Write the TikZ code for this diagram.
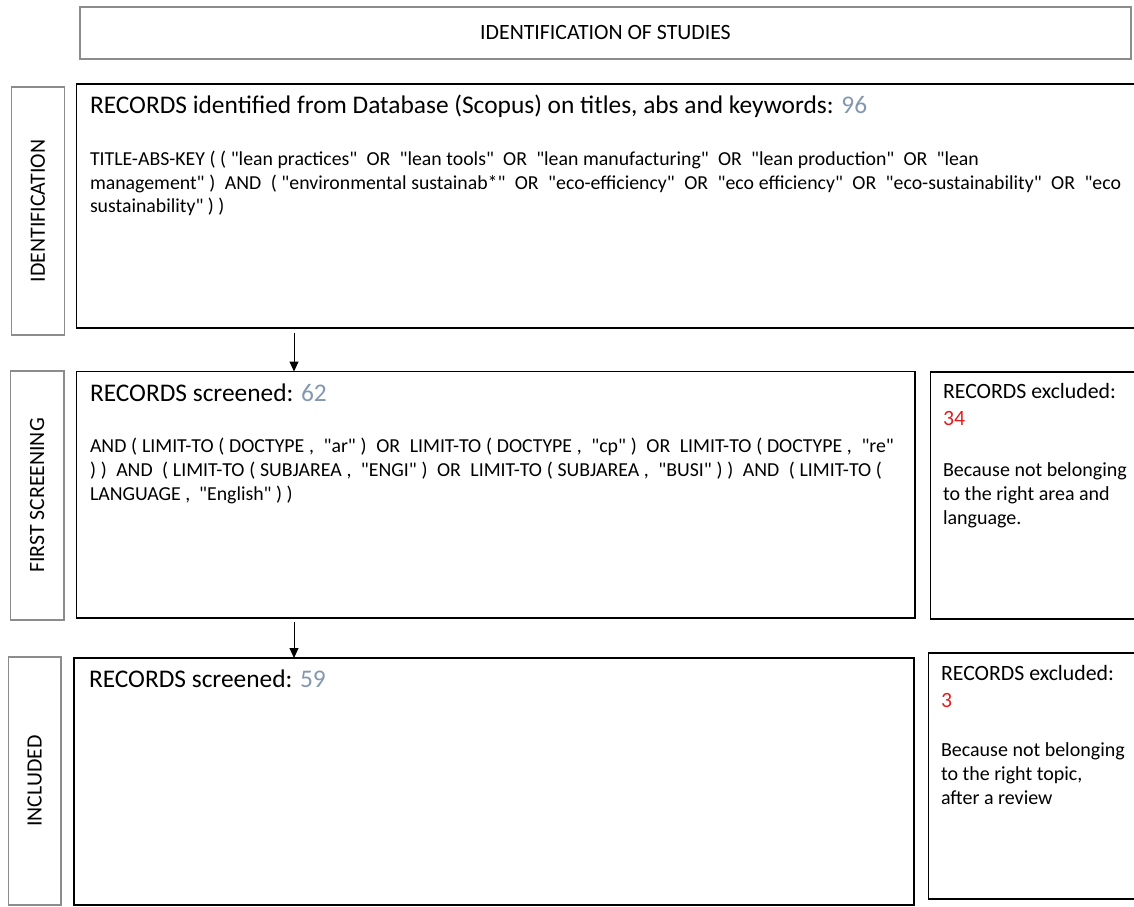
\documentclass[tikz,border=0pt]{standalone}
\usepackage{fontspec}
\setmainfont{Carlito}[Ligatures=TeXOff]
\usetikzlibrary{arrows.meta}
\definecolor{numblue}{HTML}{8497B0}
\definecolor{numred}{HTML}{E01E1E}
\definecolor{lgray}{HTML}{8C8C8C}
\newcommand\fz[1]{\fontsize{#1}{#1}\selectfont}
\newcommand\dsp{\ \ }
\tikzset{
  mainbox/.style={draw=black,line width=1.8pt,inner sep=0pt,outer sep=0pt,rectangle},
  labbox/.style={draw=lgray,line width=1.4pt,inner sep=0pt,outer sep=0pt,rectangle,font=\fz{21.8}},
  txt/.style={anchor=base west,inner sep=0pt,outer sep=0pt},
  hdr/.style={txt,font=\fz{25.4}},
  qry/.style={txt,font=\fz{19.8}},
  exh/.style={txt,font=\fz{21.8}},
  exb/.style={txt,font=\fz{20}},
  arr/.style={line width=1pt,-{Triangle[length=10pt,width=9pt]}},
}
\begin{document}
\begin{tikzpicture}[x=1pt,y=-1pt]
\useasboundingbox (0,0) rectangle (1134,906);
% title
\node[labbox,minimum width=1051pt,minimum height=52pt] (title) at (605.5,33) {IDENTIFICATION OF STUDIES};
% side labels
\node[labbox,rotate=90,minimum width=248pt,minimum height=53pt] (lab1) at (38,211) {IDENTIFICATION};
\node[labbox,rotate=90,minimum width=249pt,minimum height=53.5pt] (lab2) at (37.25,495.5) {FIRST SCREENING};
\node[labbox,rotate=90,minimum width=248pt,minimum height=52.5pt] (lab3) at (34.75,781) {INCLUDED};
% main boxes
\node[mainbox,minimum width=1062pt,minimum height=244pt] (ident) at (607.5,206) {};
\node[mainbox,minimum width=838.5pt,minimum height=246.5pt] (screen) at (495.75,494.75) {};
\node[mainbox,minimum width=208pt,minimum height=247pt] (excl1) at (1034.5,495.5) {};
\node[mainbox,minimum width=840pt,minimum height=247pt] (incl) at (494,781.5) {};
\node[mainbox,minimum width=210pt,minimum height=246pt] (excl2) at (1033.5,776) {};
% arrows
\draw[arr] ([shift={(217.5,5)}]ident.south west) -- ([shift={(217.5,0)}]screen.north west);
\draw[arr] ([shift={(217.5,4)}]screen.south west) -- ([shift={(220,0)}]incl.north west);
% identification texts
\node[hdr] (h1) at (90,113) {RECORDS identified from Database (Scopus) on titles, abs and keywords: \textcolor{numblue}{96}};
\node[qry] (q1a) at (90,165) {\makebox[889pt][s]{TITLE-ABS-KEY ( ( "lean practices"\dsp OR\dsp "lean tools"\dsp OR\dsp "lean manufacturing"\dsp OR\dsp "lean production"\dsp OR\dsp "lean}};
\node[qry] (q1b) at (90,189) {\makebox[1031pt][s]{management" )\dsp AND\dsp ( "environmental sustainab*"\dsp OR\dsp "eco-efficiency"\dsp OR\dsp "eco efficiency"\dsp OR\dsp "eco-sustainability"\dsp OR\dsp "eco}};
\node[qry] (q1c) at (90,212.5) {sustainability" ) )};
% screening texts
\node[hdr] (h2) at (90,401) {RECORDS screened: \textcolor{numblue}{62}};
\node[qry] (q2a) at (90,452) {\makebox[804pt][s]{AND ( LIMIT-TO ( DOCTYPE ,\dsp "ar" )\dsp OR\dsp LIMIT-TO ( DOCTYPE ,\dsp "cp" )\dsp OR\dsp LIMIT-TO ( DOCTYPE ,\dsp "re"}};
\node[qry] (q2b) at (90,476) {\makebox[792pt][s]{) )\dsp AND\dsp ( LIMIT-TO ( SUBJAREA ,\dsp "ENGI" )\dsp OR\dsp LIMIT-TO ( SUBJAREA ,\dsp "BUSI" ) )\dsp AND\dsp ( LIMIT-TO (}};
\node[qry] (q2c) at (90,500.5) {LANGUAGE ,\dsp "English" ) )};
% excluded 1
\node[exh] (e1a) at (943,398) {RECORDS excluded:};
\node[exh,text=numred] (e1b) at (943,425) {34};
\node[exb] (e1c) at (943,476) {Because not belonging};
\node[exb] (e1d) at (943,500) {to the right area and};
\node[exb] (e1e) at (943,524) {language.};
% included
\node[hdr] (h3) at (89,687) {RECORDS screened: \textcolor{numblue}{59}};
% excluded 2
\node[exh] (e2a) at (941,680) {RECORDS excluded:};
\node[exh,text=numred] (e2b) at (941,707) {3};
\node[exb] (e2c) at (941,756) {Because not belonging};
\node[exb] (e2d) at (941,780) {to the right topic,};
\node[exb] (e2e) at (941,804) {after a review};
\end{tikzpicture}
\end{document}
